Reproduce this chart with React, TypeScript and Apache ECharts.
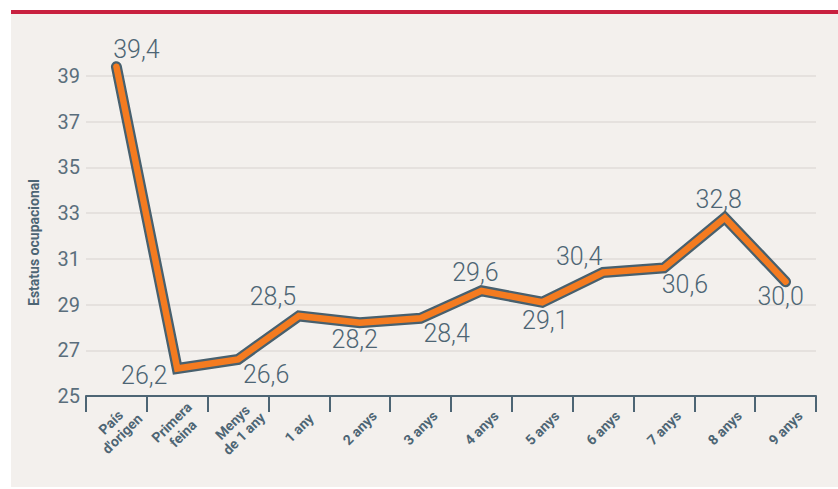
import React, { useEffect, useRef } from "react";
import * as echarts from "echarts";

const categories = [
  "País\nd'origen",
  "Primera\nfeina",
  "Menys\nde 1 any",
  "1 any",
  "2 anys",
  "3 anys",
  "4 anys",
  "5 anys",
  "6 anys",
  "7 anys",
  "8 anys",
  "9 anys",
];
const values = [39.4, 26.2, 26.6, 28.5, 28.2, 28.4, 29.6, 29.1, 30.4, 30.6, 32.8, 30.0];
const yMin = 25;
const yMax = 40;
const yInterval = 2;
const yAxisName = "Estatus ocupacional";

// label placement offsets (style only)
const labelOffsets: [number, number][] = [
  [20, -17],
  [-33, 7],
  [28, 15],
  [-26, -19],
  [-5, 17],
  [26, 15],
  [-6, -18],
  [3, 18],
  [-24, -16],
  [21, 17],
  [-6, -18],
  [-5, 15],
];

const TEXT = "#4d6574";
const FONT = "Roboto, 'Noto Sans', sans-serif";

export default function App() {
  const ref = useRef<HTMLDivElement>(null);
  useEffect(() => {
    if (!ref.current) return;
    const chart = echarts.init(ref.current, null, { renderer: "svg" });
    chart.setOption({
      animation: false,
      grid: { left: 86, right: 22, top: 53, bottom: 93, containLabel: false },
      xAxis: {
        type: "category",
        data: categories,
        boundaryGap: true,
        axisLine: { show: true, lineStyle: { color: "#4d6574", width: 2 } },
        axisTick: { show: true, length: 16, lineStyle: { color: "#4d6574", width: 2 } },
        axisLabel: {
          interval: 0,
          rotate: 45,
          align: "center",
          verticalAlign: "middle",
          margin: 32,
          fontSize: 14,
          fontWeight: "bold",
          lineHeight: 16,
          color: TEXT,
          fontFamily: FONT,
        },
        splitLine: { show: false },
      },
      yAxis: {
        type: "value",
        min: yMin,
        max: yMax,
        interval: yInterval,
        name: yAxisName,
        nameLocation: "middle",
        nameRotate: 90,
        nameGap: 45,
        nameTextStyle: {
          fontSize: 14,
          fontWeight: "bold",
          color: TEXT,
          fontFamily: FONT,
          padding: [0, 36, 0, 0],
        },
        axisLine: { show: false },
        axisTick: { show: false },
        axisLabel: {
          showMaxLabel: false,
          margin: 6,
          fontSize: 20,
          color: "#5a6e7c",
          fontFamily: FONT,
        },
        splitLine: {
          show: true,
          showMaxLine: false,
          showMinLine: false,
          lineStyle: { color: "#e0dcd8", width: 1.5 },
        },
      },
      series: [
        {
          type: "line",
          data: values,
          symbol: "none",
          silent: true,
          z: 2,
          lineStyle: { color: "#48606e", width: 11, cap: "round", join: "miter" },
        },
        {
          type: "line",
          z: 3,
          data: values.map((v, i) => ({
            value: v,
            label: { offset: labelOffsets[i] },
          })),
          symbol: "circle",
          symbolSize: 1,
          itemStyle: { color: "#f47b20" },
          lineStyle: { color: "#f47b20", width: 6.5, cap: "round", join: "miter" },
          label: {
            show: true,
            position: "inside",
            align: "center",
            verticalAlign: "middle",
            fontSize: 25,
            fontWeight: 300,
            color: TEXT,
            fontFamily: FONT,
            formatter: (p: any) => Number(p.value).toFixed(1).replace(".", ","),
          },
        },
      ],
    });
    return () => chart.dispose();
  }, []);

  return (
    <div style={{ position: "absolute", left: 0, top: 0, width: 838, height: 489, background: "#ffffff" }}>
      <div style={{ position: "absolute", left: 11, top: 10, width: 827, height: 4, background: "#c8203f" }} />
      <div style={{ position: "absolute", left: 11, top: 14, width: 827, height: 473, background: "#f3f0ed" }} />
      <div ref={ref} style={{ position: "absolute", left: 0, top: 0, width: 838, height: 489 }} />
    </div>
  );
}
